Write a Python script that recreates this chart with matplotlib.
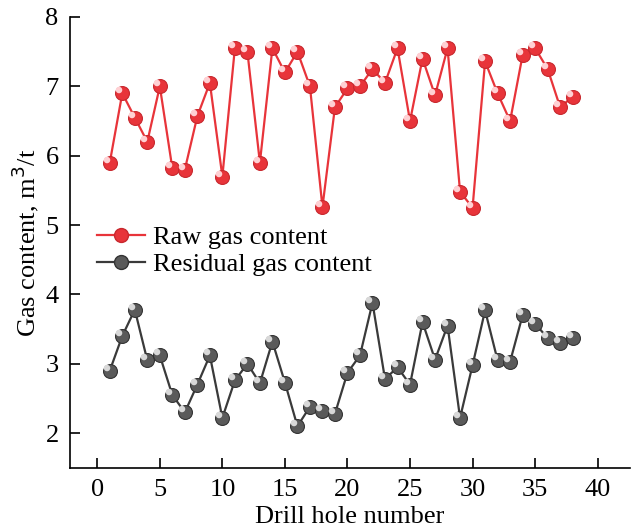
import matplotlib
matplotlib.use("Agg")
import matplotlib.pyplot as plt
from matplotlib.path import Path
from matplotlib.lines import Line2D

plt.rcParams['font.family'] = ['Liberation Serif', 'DejaVu Serif']

# Drill hole numbers and gas contents (m3/t)
holes = list(range(1, 39))
raw_gas = [5.90, 6.90, 6.55, 6.20, 7.00, 5.82, 5.80, 6.57, 7.05, 5.70,
           7.55, 7.50, 5.90, 7.55, 7.20, 7.50, 7.00, 5.26, 6.70, 6.97,
           7.00, 7.25, 7.05, 7.55, 6.50, 7.40, 6.87, 7.55, 5.48, 5.25,
           7.36, 6.90, 6.50, 7.45, 7.55, 7.25, 6.70, 6.85]
residual_gas = [2.90, 3.40, 3.78, 3.05, 3.12, 2.55, 2.30, 2.70, 3.12, 2.22,
                2.76, 3.00, 2.72, 3.32, 2.73, 2.10, 2.38, 2.32, 2.28, 2.87,
                3.12, 3.88, 2.78, 2.95, 2.70, 3.60, 3.06, 3.55, 2.22, 2.98,
                3.77, 3.05, 3.03, 3.70, 3.58, 3.37, 3.30, 3.37]

xticks = [0, 5, 10, 15, 20, 25, 30, 35, 40]
yticks = [2, 3, 4, 5, 6, 7, 8]

# small highlight circle shifted up-left, used to fake the shiny balls
circ = Path.circle(center=(-0.3, 0.3), radius=0.28)
verts = list(circ.vertices) + [(0.6, -0.6)]
codes = list(circ.codes) + [Path.MOVETO]
shine = Path(verts, codes)

fig = plt.figure(figsize=(6.34, 5.31), dpi=100)
ax = fig.add_axes([0.110, 0.119, 0.884, 0.849])

ax.plot(holes, raw_gas, color='#e8343a', lw=1.6, marker='o', ms=10,
        mfc='#e8343a', mec='#c8282e', mew=0.8)
ax.plot(holes, raw_gas, ls='none', marker=shine, ms=10, mfc='#ffd0d3', mec='none')
ax.plot(holes, residual_gas, color='#3a3a3a', lw=1.6, marker='o', ms=10,
        mfc='#5a5a5a', mec='#333333', mew=0.8)
ax.plot(holes, residual_gas, ls='none', marker=shine, ms=10, mfc='#d8d8d8', mec='none')

ax.set_xlim(-2.2, 42.6)
ax.set_ylim(1.5, 8.0)
ax.set_xticks(xticks)
ax.set_yticks(yticks)
ax.tick_params(direction='in', length=7, width=1.2, labelsize=19, pad=8)
for s in ['top', 'right']:
    ax.spines[s].set_visible(False)
for s in ['left', 'bottom']:
    ax.spines[s].set_linewidth(1.2)

ax.set_xlabel('Drill hole number', fontsize=19, labelpad=4)
ax.set_ylabel('Gas content, m$^3$/t', fontsize=19, labelpad=3)

handles = [Line2D([], [], color='#e8343a', lw=1.6, marker='o', ms=10, mfc='#e8343a', mec='#c8282e'),
           Line2D([], [], color='#3a3a3a', lw=1.6, marker='o', ms=10, mfc='#5a5a5a', mec='#333333')]
ax.legend(handles, ['Raw gas content', 'Residual gas content'], loc='upper left',
          bbox_to_anchor=(0.03, 0.56), frameon=False, fontsize=19,
          handlelength=1.8, handletextpad=0.3, labelspacing=0.12, borderaxespad=0.0)

fig.savefig('out.png', dpi=100)
